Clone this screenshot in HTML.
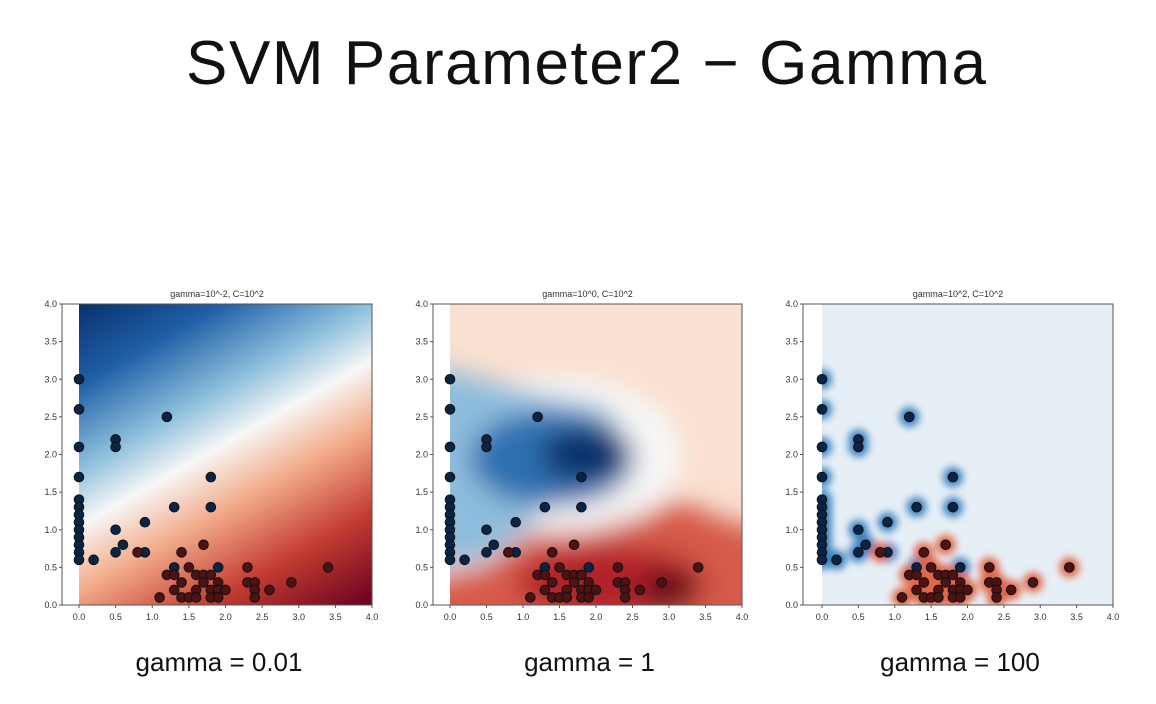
<!DOCTYPE html>
<html><head><meta charset="utf-8"><style>
html,body{margin:0;padding:0;background:#fff;width:1156px;height:704px;overflow:hidden}
svg{display:block;font-family:"Liberation Sans",sans-serif}
</style></head><body>
<svg id="s" width="1156" height="704" viewBox="0 0 1156 704">
<defs>
<filter id="b8" x="-50%" y="-50%" width="200%" height="200%"><feGaussianBlur stdDeviation="13"/></filter>
<filter id="b4" x="-50%" y="-50%" width="200%" height="200%"><feGaussianBlur stdDeviation="4"/></filter>
<linearGradient id="g1" gradientUnits="userSpaceOnUse" x1="127" y1="273" x2="329" y2="630">
<stop offset="0" stop-color="#08306b"/><stop offset="0.18" stop-color="#1f5fa6"/><stop offset="0.36" stop-color="#8fc0dd"/>
<stop offset="0.48" stop-color="#f7f7f7"/><stop offset="0.62" stop-color="#f2ab8a"/><stop offset="0.8" stop-color="#c43c32"/><stop offset="1" stop-color="#67001f"/>
</linearGradient>
</defs>
<text x="586" y="84" text-anchor="middle" font-size="62" textLength="800" fill="#111">SVM Parameter2 − Gamma</text>
</svg>
<script>
const blueX=[0,0,0,0,0,0,0,0,0,0,0,0,0,0.2,0.5,0.5,0.5,0.5,0.6,0.9,0.9,1.2,1.3,1.8,1.8,1.3,1.9];
const blueY=[3.0,2.6,2.1,1.7,1.4,1.3,1.2,1.1,1.0,0.9,0.8,0.7,0.6,0.6,2.2,2.1,1.0,0.7,0.8,1.1,0.7,2.5,1.3,1.7,1.3,0.5,0.5];
const redX=[0.8,1.4,1.7,1.2,1.3,1.5,1.6,1.7,1.8,1.4,1.7,1.9,1.3,1.6,1.8,1.9,2.0,1.1,1.4,1.5,1.6,1.8,1.9,2.3,2.3,2.4,2.4,2.4,2.6,2.9,3.4];
const redY=[0.7,0.7,0.8,0.4,0.4,0.5,0.4,0.4,0.4,0.3,0.3,0.3,0.2,0.2,0.2,0.2,0.2,0.1,0.1,0.1,0.1,0.1,0.1,0.5,0.3,0.3,0.2,0.1,0.2,0.3,0.5];
const ticks=[0,0.5,1,1.5,2,2.5,3,3.5,4];
const tickLabels=["0.0","0.5","1.0","1.5","2.0","2.5","3.0","3.5","4.0"];
const titles=["gamma=10^-2, C=10^2","gamma=10^0, C=10^2","gamma=10^2, C=10^2"];
const captions=["gamma = 0.01","gamma = 1","gamma = 100"];
const panels=[{x0:79,x4:372,fl:62},{x0:450,x4:742,fl:433},{x0:822,x4:1113,fl:803}];
const NS="http://www.w3.org/2000/svg",S=document.getElementById('s');
const yTop=304,yBot=605;
function mk(t,a,p){const e=document.createElementNS(NS,t);for(const k in a)e.setAttribute(k,a[k]);(p||S).appendChild(e);return e;}
panels.forEach((P,i)=>{
 const sx=v=>P.x0+v*(P.x4-P.x0)/4, sy=v=>yBot-v*(yBot-yTop)/4;
 const g=mk('g',{});
 
 
 mk('clipPath',{id:'c'+i},g); mk('rect',{x:sx(0),y:yTop,width:sx(4)-sx(0),height:yBot-yTop},g.lastChild);
 const bg=mk('g',{'clip-path':'url(#c'+i+')'},g);
 
 
 const W=sx(4)-sx(0),H=yBot-yTop;
 if(i===0){mk('rect',{x:sx(0),y:yTop,width:W,height:H,fill:'url(#g1)'},bg);}
 if(i===1){
  mk('rect',{x:sx(0),y:yTop,width:W,height:H,fill:'#fae0d0'},bg);
  const fb=mk('g',{filter:'url(#b8)'},bg);
  const pts=a=>a.map(p=>sx(p[0])+','+sy(p[1])).join(' ');
  mk('polygon',{points:pts([[-0.5,-0.5],[-0.5,0.25],[0.5,0.5],[1.0,0.85],[1.4,1.15],[2.0,1.2],[2.6,1.15],[3.1,1.4],[3.6,1.2],[4.5,0.9],[4.5,-0.5]]),fill:'#d65a48'},fb);
  mk('ellipse',{cx:sx(2.2),cy:sy(0.3),rx:W*0.32,ry:H*0.12,fill:'#b2202a'},fb);
  mk('ellipse',{cx:sx(3.0),cy:sy(0.2),rx:W*0.1,ry:H*0.07,fill:'#6a0a18'},fb);
  mk('ellipse',{cx:sx(1.5),cy:sy(2.0),rx:W*0.42,ry:H*0.26,fill:'#f7f7f7'},fb);
  mk('polygon',{points:pts([[-0.3,0.5],[0.4,0.6],[0.9,0.85],[1.3,1.3],[1.9,1.4],[2.4,1.7],[2.2,2.6],[1.2,2.8],[-0.3,3.2]]),fill:'#8dbcdc'},fb);
  mk('ellipse',{cx:sx(1.4),cy:sy(1.95),rx:W*0.28,ry:H*0.16,fill:'#2f6fb0'},fb);
  mk('ellipse',{cx:sx(1.85),cy:sy(2.0),rx:W*0.15,ry:H*0.09,fill:'#08306b'},fb);
 }
 if(i===2){
  mk('rect',{x:sx(0),y:yTop,width:W,height:H,fill:'#e7eff6'},bg);
  const fb=mk('g',{filter:'url(#b4)'},bg);
  blueX.forEach((x,k)=>mk('circle',{cx:sx(x),cy:sy(blueY[k]),r:10,fill:'#3b82c0'},fb));
  redX.forEach((x,k)=>mk('circle',{cx:sx(x),cy:sy(redY[k]),r:10,fill:'#e0664a'},fb));
 }
 const fr=mk('rect',{x:P.fl,y:yTop,width:P.x4-P.fl,height:yBot-yTop,fill:'none',stroke:'#555','stroke-width':1},g);
 
 
 ticks.forEach((t,k)=>{
  mk('line',{x1:sx(t),x2:sx(t),y1:yBot,y2:yBot+3,stroke:'#555'},g);
  const tx=mk('text',{x:sx(t),y:yBot+15,'font-size':9,'text-anchor':'middle',fill:'#333'},g);tx.textContent=tickLabels[k];
  
  
  mk('line',{x1:P.fl-3,x2:P.fl,y1:sy(t),y2:sy(t),stroke:'#555'},g);
  const ty=mk('text',{x:P.fl-5,y:sy(t)+3,'font-size':9,'text-anchor':'end',fill:'#333'},g);ty.textContent=tickLabels[k];
  
  
 });
 const tt=mk('text',{x:(P.fl+P.x4)/2,y:297,'font-size':9,'text-anchor':'middle',fill:'#333'},g);tt.textContent=titles[i];
 
 
 const dot=(x,y,c)=>{const d=mk('circle',{cx:sx(x),cy:sy(y),r:4.8,fill:c,stroke:'#111','stroke-width':1},g);return d;};
 blueX.forEach((x,k)=>{const d=dot(x,blueY[k],'#0a2448');
  
  });
 redX.forEach((x,k)=>{const d=dot(x,redY[k],'#4e1212');
  
  });
 const cp=mk('text',{x:(P.fl+P.x4)/2+2,y:671,'font-size':26,'text-anchor':'middle',fill:'#111'});cp.textContent=captions[i];
 
 
});
</script>
</body></html>
